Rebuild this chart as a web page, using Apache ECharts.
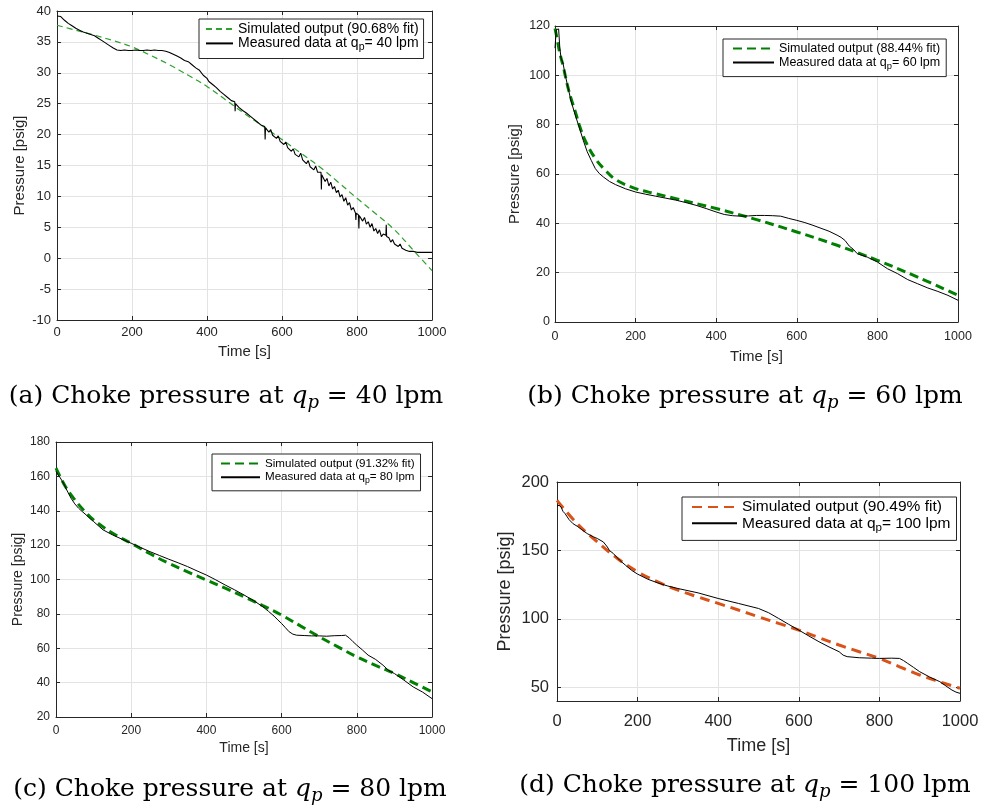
<!DOCTYPE html>
<html><head><meta charset="utf-8">
<script src="https://cdn.jsdelivr.net/npm/echarts@6/dist/echarts.min.js"></script>
<style>html,body{margin:0;padding:0;background:#fff}#c{width:981px;height:809px}</style>
</head><body><div id="c"></div>
<script>
// ---------------- DATA ----------------
const X_MIN = 0, X_MAX = 1000, X_INTERVAL = 200;

// (a) q_p = 40 lpm
const TIME_A_MEAS = [0,5,10,20,30,40,50,60,70,80,90,100,110,120,130,140,150,160,170,180,190,200,210,220,230,240,250,260,270,280,290,300,310,320,330,340,350,360,370,380,390,
  400,405,410,415,420,425,430,435,440,445,450,455,460,465,470,474,475,476,480,485,490,495,500,505,510,515,520,525,530,535,540,545,550,554,555,556,560,565,570,575,580,585,590,595,600,605,610,615,620,625,630,635,640,645,650,655,660,665,670,675,680,685,690,695,700,704,705,706,710,715,720,725,730,735,740,745,750,755,760,765,770,775,780,785,790,796,797,798,800,804,805,806,810,815,820,825,830,835,840,845,850,855,860,865,870,877,878,879,885,890,895,900,905,910,915,920,925,930,935,940,945,950,960,970,980,990,1000];
const MEAS_A = [39.2,39.5,39.1,38.5,38.0,37.6,37.2,36.9,36.6,36.4,36.2,36.0,35.6,35.2,34.8,34.4,34.0,33.7,33.6,33.7,33.6,33.6,33.7,33.6,33.6,33.7,33.6,33.7,33.6,33.6,33.5,33.3,33.0,32.7,32.4,32.0,31.8,31.3,30.8,30.4,29.6,
  29.1,28.6,28.8,28.1,28.3,27.6,27.7,27.0,27.3,26.5,26.8,26.0,26.3,25.5,25.4,25.3,23.8,25.0,24.9,24.4,24.6,23.9,24.1,23.5,23.7,23.0,23.1,22.5,22.7,22.0,22.2,21.5,21.7,21.3,19.2,21.1,21.0,20.4,20.8,19.9,20.1,19.4,19.8,18.9,19.2,18.4,18.8,17.9,18.1,17.3,17.7,16.8,17.1,16.4,17.0,15.9,16.2,15.3,15.8,14.8,15.1,14.3,14.9,13.9,14.2,13.9,11.1,13.5,13.3,12.4,12.9,11.7,12.3,11.2,11.6,10.6,11.0,9.9,10.3,9.2,9.8,8.6,9.0,7.8,8.2,7.3,6.2,7.3,7.4,7.0,4.8,6.9,6.8,6.0,6.6,5.5,5.9,5.0,5.6,4.4,4.8,4.0,4.6,3.5,3.9,3.7,5.4,3.5,3.3,2.6,3.0,2.3,2.6,1.9,2.3,1.6,1.9,1.3,1.6,1.1,1.3,1.1,0.95,0.95,0.95,0.95,0.95];
const TIME_A_SIM = [0,50,100,150,200,250,300,350,400,450,500,550,600,650,700,750,800,850,900,950,1000];
const SIM_A = [37.7,36.9,36.1,35.2,34.2,32.8,31.3,29.6,27.8,25.6,23.4,21.3,19.2,17.0,14.8,12.3,9.7,7.2,4.6,1.3,-2.0];

// (b) q_p = 60 lpm
const TIME_B_MEAS = [0,3,6,9,12,15,20,25,30,40,50,60,70,80,90,100,110,120,135,150,175,200,225,250,275,300,325,350,375,400,420,440,460,480,500,520,540,560,580,600,620,640,660,680,700,710,720,730,740,750,775,800,825,850,875,900,925,950,975,1000];
const MEAS_B = [111,118.5,119,118.8,111,107,104.8,100.5,96.7,89.5,84,79,73.7,69,65.5,62.2,60.2,58.8,57,55.7,54,52.7,51.8,51,50.2,49.4,48.4,47.3,46,44.6,43.6,43.1,42.9,43.0,43.2,43.2,43.1,42.9,42.0,41.2,40.3,39.2,38.0,36.8,35.2,34.3,33.0,30.8,29.5,27.7,26.3,24.3,21.6,19.6,17.2,15.5,13.8,12.4,10.8,8.8];
const TIME_B_SIM = [0,5,10,15,20,30,40,50,60,75,100,125,150,200,250,300,400,500,600,700,800,900,1000];
const SIM_B = [119,115,110.5,107,104,96.5,90.5,85.5,80,73.5,66.3,61.5,57.8,54.1,52,50,46,41.5,36.5,31.1,25,18.2,10.8];

// (c) q_p = 80 lpm
const TIME_C_MEAS = [0,5,10,20,30,40,50,60,70,80,90,100,125,150,175,200,225,250,275,300,325,350,375,400,425,450,475,500,525,550,565,580,590,600,610,620,630,640,660,680,700,720,740,760,770,780,790,800,815,830,850,870,885,900,925,950,975,1000];
const MEAS_C = [163,161,159.6,156,151.5,147.3,144,141.5,139.5,137.6,135.5,133.7,128.9,126,123.5,121.1,118.6,116.2,114,111.8,109.7,107.5,105,102.6,99.8,96.8,94,91,87.8,84.2,81.5,78.7,76.5,74.4,72,69.6,68.2,67.6,67.4,67.2,67.2,67.0,67.3,67.4,67.6,66,63.8,61.8,59,56,53.5,50.1,47,45.3,41.5,37.5,34.5,30.7];
const TIME_C_SIM = [0,25,50,75,100,150,200,250,300,350,400,450,500,550,600,650,700,750,800,850,900,950,1000];
const SIM_C = [164.8,154.1,146.4,140,134.7,127,121.1,115,109.4,104.5,99.7,95,90,84.8,79.3,73,66.7,60.8,55,50,45.3,40,34.6];

// (d) q_p = 100 lpm
const TIME_D_MEAS = [0,5,10,15,20,30,40,50,60,75,90,100,115,125,130,140,155,170,185,200,225,250,275,300,350,400,450,500,525,550,575,600,625,650,675,700,710,720,750,780,800,830,850,860,870,885,900,925,950,965,980,990,1000];
const MEAS_D = [182.3,183,181.8,178.5,176.9,172.5,169.5,167.7,165.5,162.3,160,158.7,156.2,152.5,150,147.7,143,139.2,135.5,132.7,129,126.3,124,122.2,119,114.9,111.3,107.6,104.5,100.3,96,91.8,87.5,83.3,79.5,76,73.5,72.4,71.6,71.3,71.1,71.3,71.1,69.5,67.5,64.5,61.4,57.5,54.1,51,48,46.5,45.6];
const TIME_D_SIM = [0,50,100,150,200,250,300,350,400,450,500,550,600,650,700,750,800,850,900,950,1000];
const SIM_D = [186.6,169.6,156.2,144.1,134.4,127,121,116,111.3,106.5,101.5,96.7,91.8,86.3,80.9,76,71.1,65,59,54,49.3];
const Y_TICKS_D = [50,100,150,200];

const SIM_NAMES = ['Simulated output (90.68% fit)','Simulated output (88.44% fit)','Simulated output (91.32% fit)','Simulated output (90.49% fit)'];
const MEAS_NAMES = ['Measured data at q_p= 40 lpm','Measured data at q_p= 60 lpm','Measured data at q_p= 80 lpm','Measured data at q_p= 100 lpm'];
const CAPTIONS = [['(a)','40'],['(b)','60'],['(c)','80'],['(d)','100']];

// ---------------- LAYOUT / STYLE ----------------
const SANS = '"Liberation Sans", Arial, Helvetica, sans-serif';
const SERIF = '"DejaVu Serif", serif';
const AXIS_COLOR = '#262626';
const GRID_COLOR = '#e3e3e3';
const CAP_FS = 25;

const PANELS = [
  {grid:{left:57,top:11,width:375,height:309}, yMin:-10, yMax:40, yInterval:5,
   tickFont:13, nameFont:15, xLabelMargin:6, xNameGap:24, yLabelMargin:6, yNameGap:30,
   legend:{left:199, top:19, fs:14, itemWidth:27, row:16, padding:[3,5,6,6]},
   sim:{color:'#2ea12e', width:1.2, dash:[6,4]}, measWidth:1.1,
   simT:TIME_A_SIM, simV:SIM_A, measT:TIME_A_MEAS, measV:MEAS_A,
   caption:{x:226, y:396}},
  {grid:{left:555,top:26,width:403,height:296}, yMin:0, yMax:120, yInterval:20,
   tickFont:12.5, nameFont:15, xLabelMargin:8, xNameGap:27, yLabelMargin:5, yNameGap:33,
   legend:{left:723, top:39, fs:12.5, itemWidth:41, row:16, padding:[3,6,6,9]},
   sim:{color:'#008000', width:3, dash:[9,5]}, measWidth:1,
   simT:TIME_B_SIM, simV:SIM_B, measT:TIME_B_MEAS, measV:MEAS_B,
   caption:{x:745, y:396}},
  {grid:{left:56,top:442,width:376,height:275}, yMin:20, yMax:180, yInterval:20,
   tickFont:12, nameFont:14, xLabelMargin:8, xNameGap:24, yLabelMargin:6, yNameGap:31,
   legend:{left:212, top:454, fs:11.6, itemWidth:39, row:15, padding:[3.5,6,6,8]},
   sim:{color:'#008000', width:3, dash:[9,5]}, measWidth:1,
   simT:TIME_C_SIM, simV:SIM_C, measT:TIME_C_MEAS, measV:MEAS_C,
   caption:{x:230, y:789}},
  {grid:{left:557,top:482,width:403,height:219}, yMin:40, yMax:200, yCustom:Y_TICKS_D,
   tickFont:16.5, nameFont:18, xLabelMargin:12, xNameGap:36, yLabelMargin:8, yNameGap:43,
   legend:{left:682, top:497, fs:15.5, itemWidth:45, row:18, padding:[2,6,7,9]},
   sim:{color:'#D95319', width:3, dash:[10,6]}, measWidth:1,
   simT:TIME_D_SIM, simV:SIM_D, measT:TIME_D_MEAS, measV:MEAS_D,
   caption:{x:745, y:785}}
];

function pairs(t, v){ return t.map(function(x, i){ return [x, v[i]]; }); }
function plain(v){ return String(v); }

const option = {animation:false, backgroundColor:'#fff', grid:[], xAxis:[], yAxis:[], series:[], legend:[], graphic:[]};

PANELS.forEach(function(p, i){
  option.grid.push(Object.assign({containLabel:false, outerBoundsMode:'none'}, p.grid));
  const axisLine = {show:true, onZero:false, lineStyle:{color:AXIS_COLOR, width:1}};
  const tick = {show:true, inside:true, length:4, lineStyle:{color:AXIS_COLOR, width:1}};
  const labelStyle = {color:AXIS_COLOR, fontFamily:SANS, fontSize:p.tickFont, formatter:plain};
  const nameStyle = {color:AXIS_COLOR, fontFamily:SANS, fontSize:p.nameFont};
  const xb = {type:'value', gridIndex:i, min:X_MIN, max:X_MAX, interval:X_INTERVAL};
  option.xAxis.push(Object.assign({}, xb, {position:'bottom', axisLine:axisLine, axisTick:tick,
    axisLabel:Object.assign({margin:p.xLabelMargin}, labelStyle),
    splitLine:{show:true, lineStyle:{color:GRID_COLOR, width:1}},
    name:'Time [s]', nameLocation:'middle', nameGap:p.xNameGap, nameTextStyle:nameStyle}));
  option.xAxis.push(Object.assign({}, xb, {position:'top', axisLine:axisLine, axisTick:tick,
    axisLabel:{show:false}, splitLine:{show:false}}));
  const yb = {type:'value', gridIndex:i, min:p.yMin, max:p.yMax};
  if (p.yInterval) yb.interval = p.yInterval;
  const ytick = Object.assign({}, tick);
  const ylab = Object.assign({margin:p.yLabelMargin}, labelStyle);
  if (p.yCustom){ ytick.customValues = p.yCustom; ylab.customValues = p.yCustom; }
  option.yAxis.push(Object.assign({}, yb, {position:'left', axisLine:axisLine, axisTick:ytick,
    axisLabel:ylab, splitLine:{show:true, lineStyle:{color:GRID_COLOR, width:1}},
    name:'Pressure [psig]', nameLocation:'middle', nameGap:p.yNameGap, nameTextStyle:nameStyle}));
  option.yAxis.push(Object.assign({}, yb, {position:'right', axisLine:axisLine, axisTick:ytick,
    axisLabel:{show:false, customValues:p.yCustom}, splitLine:{show:false}}));

  option.series.push({type:'line', name:SIM_NAMES[i], xAxisIndex:2*i, yAxisIndex:2*i,
    data:pairs(p.simT, p.simV), symbol:'none', smooth:0.4, silent:true,
    lineStyle:{color:p.sim.color, width:p.sim.width, type:p.sim.dash}, itemStyle:{color:p.sim.color}, z:2});
  option.series.push({type:'line', name:MEAS_NAMES[i], xAxisIndex:2*i, yAxisIndex:2*i,
    data:pairs(p.measT, p.measV), symbol:'none', silent:true,
    lineStyle:{color:'#000', width:p.measWidth}, itemStyle:{color:'#000'}, z:3});

  const fs = p.legend.fs, sfs = Math.round(fs*0.75*10)/10, h = Math.round(fs*1.3*10)/10;
  option.legend.push({
    data:[SIM_NAMES[i], MEAS_NAMES[i]], orient:'vertical', left:p.legend.left, top:p.legend.top,
    itemWidth:p.legend.itemWidth, itemHeight:10, itemGap:p.legend.row - h,
    padding:p.legend.padding, borderColor:AXIS_COLOR, borderWidth:1, borderRadius:0, backgroundColor:'#fff',
    selectedMode:false,
    itemStyle:{color:'rgba(0,0,0,0)', borderColor:'rgba(0,0,0,0)', borderWidth:0, opacity:0},
    textStyle:{color:'#000', fontFamily:SANS, fontSize:fs,
      rich:{
        n:{color:'#000', fontFamily:SANS, fontSize:fs, lineHeight:h, verticalAlign:'middle'},
        s:{color:'#000', fontFamily:SANS, fontSize:sfs, lineHeight:sfs, padding:[h - sfs,0,0,0], verticalAlign:'bottom'}
      }},
    formatter:function(name){
      const k = name.indexOf('q_p');
      if (k >= 0) return '{n|' + name.slice(0,k) + 'q}{s|p}{n|' + name.slice(k+3) + '}';
      return '{n|' + name + '}';
    }
  });

  const c = CAPTIONS[i];
  option.graphic.push({type:'text', x:p.caption.x, y:p.caption.y, silent:true,
    style:{text:'{n|' + c[0] + ' Choke pressure at }{i|q}{s|p}{n| = ' + c[1] + ' lpm}',
      align:'center', verticalAlign:'middle', fill:'#000', fontFamily:SERIF, fontSize:CAP_FS,
      rich:{
        n:{fill:'#000', fontFamily:SERIF, fontSize:CAP_FS, lineHeight:32, verticalAlign:'middle'},
        i:{fill:'#000', fontFamily:SERIF, fontSize:CAP_FS, fontStyle:'italic', lineHeight:32, verticalAlign:'middle'},
        s:{fill:'#000', fontFamily:SERIF, fontSize:18, fontStyle:'italic', lineHeight:18, padding:[14,0,0,0], verticalAlign:'bottom'}
      }}});
});

const chart = echarts.init(document.getElementById('c'), null, {renderer:'canvas'});
chart.setOption(option);
</script></body></html>
